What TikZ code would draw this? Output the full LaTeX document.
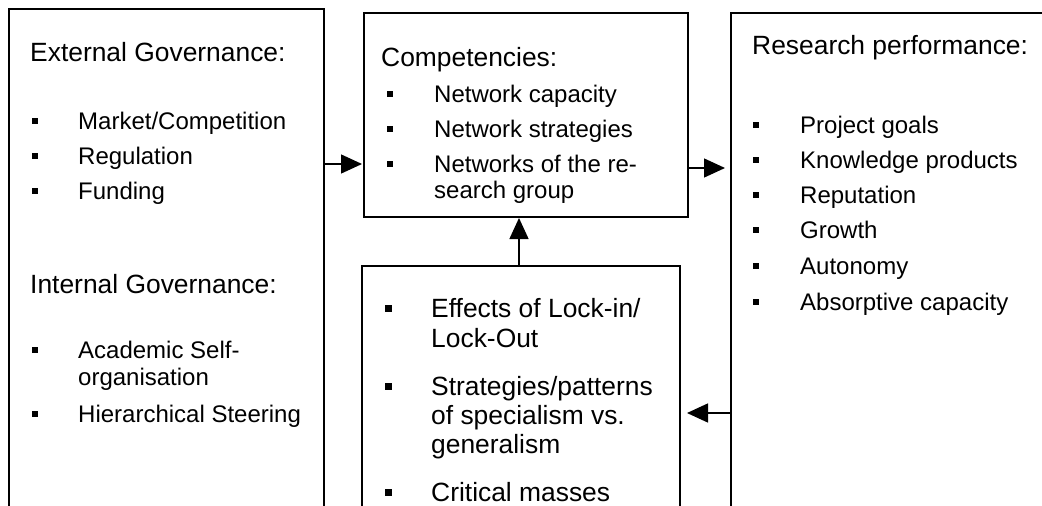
\documentclass[tikz,border=0pt]{standalone}
\usepackage{fontspec}
\setmainfont{Liberation Sans}
\usetikzlibrary{arrows.meta}
\tikzset{
  box/.style={draw, line width=1.4pt, rectangle, inner sep=0pt, outer sep=0pt, anchor=north west},
  ttl/.style={font=\fontsize{26.4}{30}\selectfont, anchor=base west, inner sep=0pt},
  itm/.style={font=\fontsize{24}{27}\selectfont, anchor=base west, inner sep=0pt},
  big/.style={font=\fontsize{26.4}{30}\selectfont, anchor=base west, inner sep=0pt},
  bul/.style={fill=black, rectangle, minimum size=6pt, inner sep=0pt},
  bigbul/.style={fill=black, rectangle, minimum size=7pt, inner sep=0pt},
  arr/.style={line width=1.4pt, -{Triangle[length=21pt,width=19pt]}},
}
\begin{document}
\begin{tikzpicture}[x=1pt,y=-1pt]
\useasboundingbox (0,0) rectangle (1042,506);
\fill[white] (0,0) rectangle (1042,506);
\clip (0,0) rectangle (1042,506);

% boxes
\node[box, minimum width=315pt, minimum height=530pt] (lbox) at (9,9) {};
\node[box, minimum width=324pt, minimum height=204pt] (cbox) at (364,13) {};
\node[box, minimum width=318pt, minimum height=270pt] (dbox) at (362,266) {};
\node[box, minimum width=340pt, minimum height=530pt] (rbox) at (731,13) {};

% left box
\node[ttl] (ext) at (30,61) {External Governance:};
\node[itm] (l1) at (78,129) {Market/Competition};
\node[itm] (l2) at (78,164) {Regulation};
\node[itm] (l3) at (78,199) {Funding};
\node[ttl] (int) at (30,293) {Internal Governance:};
\node[itm] (l4) at (78,358) {Academic Self-};
\node[itm] (l4b) at (78,385) {organisation};
\node[itm] (l5) at (78,422) {Hierarchical Steering};
\foreach \n in {l1,l2,l3,l4,l5}
  \node[bul] (b\n) at ([shift={(-43,-8)}]\n.base west) {};

% center box
\node[ttl] (comp) at (381,66) {Competencies:};
\node[itm] (c1) at (434,102) {Network capacity};
\node[itm] (c2) at (434,137) {Network strategies};
\node[itm] (c3) at (434,172) {Networks of the re-};
\node[itm] (c3b) at (434,198) {search group};
\foreach \n in {c1,c2,c3}
  \node[bul] (b\n) at ([shift={(-44,-8)}]\n.base west) {};

% lower box
\node[big] (d1) at (431,317) {Effects of Lock-in/};
\node[big] (d1b) at (431,347) {Lock-Out};
\node[big] (d2) at (431,395) {Strategies/patterns};
\node[big] (d2b) at (431,424) {of specialism vs.};
\node[big] (d2c) at (431,453) {generalism};
\node[big] (d3) at (431,501) {Critical masses};
\foreach \n in {d1,d2,d3}
  \node[bigbul] (b\n) at ([shift={(-42.5,-9)}]\n.base west) {};

% right box
\node[ttl] (res) at (752,54) {Research performance:};
\node[itm] (r1) at (800,133) {Project goals};
\node[itm] (r2) at (800,168) {Knowledge products};
\node[itm] (r3) at (800,203) {Reputation};
\node[itm] (r4) at (800,238) {Growth};
\node[itm] (r5) at (800,274) {Autonomy};
\node[itm] (r6) at (800,310) {Absorptive capacity};
\foreach \n in {r1,r2,r3,r4,r5,r6}
  \node[bul] (b\n) at ([shift={(-44.5,-8)}]\n.base west) {};

% connectors
\coordinate (y1) at (0,164);
\coordinate (y2) at (0,168);
\coordinate (x3) at (519,0);
\coordinate (y4) at (0,413);
\draw[arr, shorten >=2pt] (lbox.east |- y1) -- (cbox.west |- y1);
\draw[arr, shorten >=6pt] (cbox.east |- y2) -- (rbox.west |- y2);
\draw[arr, shorten >=1pt] (x3 |- dbox.north) -- (x3 |- cbox.south);
\draw[arr, shorten >=7pt] (rbox.west |- y4) -- (dbox.east |- y4);
\end{tikzpicture}
\end{document}
